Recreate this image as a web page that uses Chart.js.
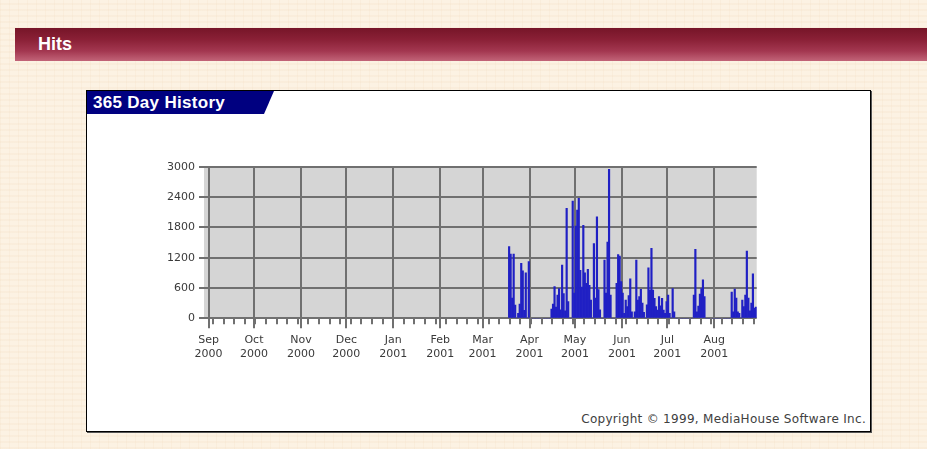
<!DOCTYPE html>
<html>
<head>
<meta charset="utf-8">
<script src="https://cdn.jsdelivr.net/npm/chart.js@4.4.1/dist/chart.umd.min.js"></script>
<style>
  body {
    margin: 0;
    width: 927px;
    height: 449px;
    overflow: hidden;
    position: relative;
    background-color: #fcf2e3;
    background-image:
      repeating-linear-gradient(0deg, rgba(240, 215, 185, 0.18) 0 2px, transparent 2px 6px),
      repeating-linear-gradient(90deg, rgba(240, 215, 185, 0.18) 0 1px, transparent 1px 9px);
    font-family: Arial, "Liberation Sans", sans-serif;
  }
  .bar {
    position: absolute;
    left: 15px;
    top: 28px;
    width: 912px;
    height: 33px;
    background: linear-gradient(180deg, #761528 0%, #8a2036 35%, #a33750 70%, #c26478 100%);
  }
  .bar span {
    position: absolute;
    left: 23px;
    top: 0;
    line-height: 33px;
    color: #fff;
    font-weight: bold;
    font-size: 18px;
  }
  .panel {
    position: absolute;
    left: 86px;
    top: 90px;
    width: 783px;
    height: 340px;
    background: #fff;
    border: 1px solid #000;
    box-shadow: 1px 1px 0 #555;
  }
  .tab {
    position: absolute;
    left: 0;
    top: 0;
    width: 187px;
    height: 23px;
    background: #000080;
    clip-path: polygon(0 0, 100% 0, calc(100% - 10px) 100%, 0 100%);
    color: #fff;
    font-weight: bold;
    font-size: 17px;
    letter-spacing: 0.3px;
    line-height: 23px;
    padding-left: 6px;
    box-sizing: border-box;
  }
  .copy {
    position: absolute;
    right: 4px;
    bottom: 5px;
    font-family: "DejaVu Sans", sans-serif;
    font-size: 12px;
    letter-spacing: 0.3px;
    color: #404040;
  }
  #chart {
    position: absolute;
    left: 150px;
    top: 146px;
  }
</style>
</head>
<body>
<div class="bar"><span>Hits</span></div>
<div class="panel">
  <div class="tab">365 Day History</div>
  <div class="copy">Copyright © 1999, MediaHouse Software Inc.</div>
</div>
<canvas id="chart" width="630" height="230"></canvas>

<script>
// day 0 = Aug 29 2000, last day (364) = Aug 28 2001
var totalDays = 365;

var monthDays = [3, 33, 64, 94, 125, 156, 184, 215, 245, 276, 306, 337];
var monthLabels = [
    ['Sep', '2000'], ['Oct', '2000'], ['Nov', '2000'], ['Dec', '2000'],
    ['Jan', '2001'], ['Feb', '2001'], ['Mar', '2001'], ['Apr', '2001'],
    ['May', '2001'], ['Jun', '2001'], ['Jul', '2001'], ['Aug', '2001']
];

// Mondays, small ticks under the axis
var weekTicks = [];
for (let d = 6; d < totalDays; d += 7) {
    weekTicks.push(d);
}

// hits per day, from day 201 (Mar 18 2001) to day 364; nothing before
var firstHitDay = 201;
var hits = [
    1420, 1270, 400, 1270, 260, 0, 100, 280, 1090, 940, 160, 900, 0, 1120,
    0, 0, 0, 0, 0, 0, 0, 0, 0, 0, 0, 0, 0, 0,
    180, 280, 627, 220, 460, 590, 170, 1055, 490, 150, 2175, 330, 0, 0,
    2320, 500, 1825, 2140, 2372, 950, 620, 1840, 900, 690, 970, 650, 360, 0,
    1480, 400, 2010, 570, 170, 0, 0, 1150, 500, 1510, 2950, 460, 0, 0,
    0, 690, 1260, 1230, 725, 500, 100, 360, 230, 450, 780, 130, 0, 130,
    1150, 360, 430, 575, 300, 120, 0, 265, 1000, 560, 1385, 560, 395, 230,
    165, 430, 245, 395, 165, 100, 330, 460, 100, 0, 590, 130, 0, 0,
    0, 0, 0, 0, 0, 0, 0, 0, 0, 0, 460, 1365, 130, 240,
    480, 590, 760, 430, 0, 0, 0, 0, 0, 0, 0, 0, 0, 0,
    0, 0, 0, 0, 0, 0, 0, 520, 130, 580, 400, 130, 100, 0,
    360, 230, 460, 1330, 400, 150, 300, 880, 200, 220
];

var yTicks = [0, 600, 1200, 1800, 2400, 3000];

var points = [];
for (let i = 0; i < hits.length; i++) {
    points.push({ x: firstHitDay + i + 0.5, y: hits[i] });
}

var axisFont = { family: 'DejaVu Sans', size: 11, lineHeight: 1.25 };

// gray plot area + weekly tick marks
var plotExtras = {
    id: 'plotExtras',
    beforeDraw(chart) {
        const a = chart.chartArea;
        const ctx = chart.ctx;
        ctx.save();
        ctx.fillStyle = '#d5d5d5';
        ctx.fillRect(a.left, a.top, a.right - a.left, a.bottom - a.top);
        ctx.restore();
    },
    afterDraw(chart) {
        const x = chart.scales.x;
        const a = chart.chartArea;
        const ctx = chart.ctx;
        ctx.save();
        ctx.strokeStyle = '#707070';
        ctx.lineWidth = 2;
        ctx.beginPath();
        weekTicks.forEach(function (d) {
            const px = Math.round(x.getPixelForValue(d));
            ctx.moveTo(px, a.bottom);
            ctx.lineTo(px, a.bottom + 6);
        });
        ctx.stroke();
        ctx.restore();
    }
};

new Chart(document.getElementById('chart'), {
    type: 'bar',
    data: {
        datasets: [{
            data: points,
            backgroundColor: '#2020c4',
            borderWidth: 0,
            barPercentage: 1,
            categoryPercentage: 1
        }]
    },
    options: {
        responsive: false,
        animation: false,
        layout: { padding: { left: 0, right: 23.3, top: 20.7, bottom: 0 } },
        plugins: {
            legend: { display: false },
            tooltip: { enabled: false }
        },
        scales: {
            x: {
                type: 'linear',
                min: 0,
                max: totalDays,
                offset: false,
                afterBuildTicks: function (scale) {
                    scale.ticks = monthDays.map(function (d) { return { value: d }; });
                },
                afterFit: function (scale) { scale.height = 57.7; },
                ticks: {
                    autoSkip: false,
                    maxRotation: 0,
                    padding: 5,
                    color: '#3a3a3a',
                    font: axisFont,
                    callback: function (value) {
                        return monthLabels[monthDays.indexOf(value)];
                    }
                },
                grid: {
                    color: '#707070',
                    lineWidth: 2,
                    tickLength: 10,
                    offset: false
                },
                border: { display: false }
            },
            y: {
                min: 0,
                max: 3000,
                afterBuildTicks: function (scale) {
                    scale.ticks = yTicks.map(function (v) { return { value: v }; });
                },
                afterFit: function (scale) { scale.width = 54; },
                ticks: {
                    padding: 4,
                    color: '#3a3a3a',
                    font: axisFont,
                    callback: function (value) { return String(value); }
                },
                grid: {
                    color: '#707070',
                    lineWidth: 2,
                    tickLength: 5
                },
                border: { display: false }
            }
        }
    },
    plugins: [plotExtras]
});
</script>
</body>
</html>
